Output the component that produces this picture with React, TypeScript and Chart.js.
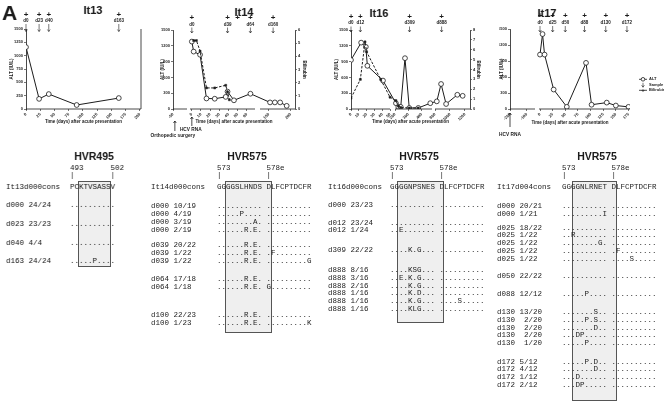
import React, { useEffect, useRef } from 'react';
import { Chart, registerables, LinearScale } from 'chart.js';

// ---------------- DATA ----------------
// It13
const it13XDomains: [number, number][] = [[0, 202]];
const it13XTicks = [0, 25, 50, 75, 100, 125, 150, 175, 200];
const it13AltDays = [0, 23, 40, 89, 163];
const it13Alt = [1160, 190, 280, 75, 205];
const it13Samples = [0, 23, 40, 163];
const it13SampleLabels = ['d0', 'd23', 'd40', 'd163'];
const it13Plus = [0, 23, 40, 163];

// It14
const it14XDomains: [number, number][] = [[-50, -35], [-2, 69], [130, 210]];
const it14XTicks = [-50, 0, 10, 20, 30, 40, 50, 60, 150, 200];
const it14AltDays = [0, 2, 9, 16, 25, 37, 39, 46, 64, 153, 164, 176, 191];
const it14Alt = [1280, 1090, 1030, 200, 195, 230, 330, 165, 290, 125, 125, 125, 60];
const it14BiliDays = [2, 5, 9, 16, 25, 37, 39, 41];
const it14Bili = [5.2, 5.2, 4.4, 1.6, 1.6, 1.8, 1.3, 0.7];
const it14Samples = [0, 39, 64, 160];
const it14SampleLabels = ['d0', 'd39', 'd64', 'd160'];
const it14Plus = [0, 39, 50, 64, 160];

// It16
const it16XDomains: [number, number][] = [[0, 50], [200, 478], [800, 1267]];
const it16XTicks = [0, 10, 20, 30, 40, 50, 200, 300, 400, 800, 1000, 1200];
const it16AltDays = [0, 13, 19, 21, 41, 207, 225, 243, 275, 307, 375, 465, 824, 881, 948, 1098, 1169];
const it16Alt = [930, 1260, 1180, 820, 540, 110, 40, 40, 965, 20, 20, 110, 145, 475, 95, 270, 250];
const it16BiliDays = [0, 12, 18, 20, 38, 50, 207, 225, 243, 307, 375];
const it16Bili = [1.1, 3.0, 6.8, 5.8, 3.0, 1.2, 0.85, 0.3, 0.15, 0.1, 0.1];
const it16Samples = [0, 12, 309, 888];
const it16SampleLabels = ['d0', 'd12', 'd309', 'd888'];
const it16Plus = [0, 12, 309, 888];

// It17
const it17XDomains: [number, number][] = [[-200, -50], [-2, 178]];
const it17XTicks = [-200, -100, 0, 25, 50, 75, 100, 125, 150, 175];
const it17AltDays = [0, 5, 9, 27, 53, 91, 102, 132, 150, 175];
const it17Alt = [1020, 1405, 1020, 365, 40, 865, 80, 120, 65, 40];
const it17Samples = [0, 25, 50, 88, 130, 172];
const it17SampleLabels = ['d0', 'd25', 'd50', 'd88', 'd130', 'd172'];
const it17Plus = [0, 25, 50, 88, 130, 172];
const legendLabels = ['ALT', 'Sample', 'Bilirubin'];

// Alignments
const it13ConsName = 'It13d000cons';
const it13Cons = 'PCKTVSASSV';
const it13Numbers = '493      502';
const it13Bars = '|        |';
const it13Rows: [string, string][] = [
  ['d000 24/24', '..........'],
  ['d023 23/23', '..........'],
  ['d040 4/4', '..........'],
  ['d163 24/24', '.....P....'],
];

const hvr575Numbers = '573        578e';
const hvr575Bars = '|          |';

const it14ConsName = 'It14d000cons';
const it14Cons = 'GGGGSLHNDS DLFCPTDCFR';
const it14Rows: [string, string][] = [
  ['d000 10/19', '.......... ..........'],
  ['d000 4/19', '.....P.... ..........'],
  ['d000 3/19', '........A. ..........'],
  ['d000 2/19', '......R.E. ..........'],
  ['d039 20/22', '......R.E. ..........'],
  ['d039 1/22', '......R.E. .F........'],
  ['d039 1/22', '......R.E. .........G'],
  ['d064 17/18', '......R.E. ..........'],
  ['d064 1/18', '......R.E. G.........'],
  ['d100 22/23', '......R.E. ..........'],
  ['d100 1/23', '......R.E. .........K'],
];

const it16ConsName = 'It16d000cons';
const it16Cons = 'GGGGNPSNES DLFCPTDCFR';
const it16Rows: [string, string][] = [
  ['d000 23/23', '.......... ..........'],
  ['d012 23/24', '.......... ..........'],
  ['d012 1/24', '..E....... ..........'],
  ['d309 22/22', '....K.G... ..........'],
  ['d888 8/16', '....KSG... ..........'],
  ['d888 3/16', '..E.K.G... ..........'],
  ['d888 2/16', '....K.G... ..........'],
  ['d888 1/16', '....K.D... ..........'],
  ['d888 1/16', '....K.G... ....S.....'],
  ['d888 1/16', '....KLG... ..........'],
];

const it17ConsName = 'It17d004cons';
const it17Cons = 'GGGGNLRNET DLFCPTDCFR';
const it17Rows: [string, string][] = [
  ['d000 20/21', '.......... ..........'],
  ['d000 1/21', '.........I ..........'],
  ['d025 18/22', '.......... ..........'],
  ['d025 1/22', '..R....... ..........'],
  ['d025 1/22', '........G. ..........'],
  ['d025 1/22', '.......... .F........'],
  ['d025 1/22', '.......... ....S.....'],
  ['d050 22/22', '.......... ..........'],
  ['d088 12/12', '.....P.... ..........'],
  ['d130 13/20', '.......S.. ..........'],
  ['d130  2/20', '.....P.S.. ..........'],
  ['d130  2/20', '.......D.. ..........'],
  ['d130  2/20', '...DP..... ..........'],
  ['d130  1/20', '.....P.... ..........'],
  ['d172 5/12', '.....P.D.. ..........'],
  ['d172 4/12', '.......D.. ..........'],
  ['d172 1/12', '...D...... ..........'],
  ['d172 2/12', '...DP..... ..........'],
];

// ---------------- STYLE / LAYOUT ----------------
const INK = '#1c1c1c';
const SANS = '"Liberation Sans", Arial, sans-serif';
const MONO = '"Liberation Mono", "DejaVu Sans Mono", monospace';
const CANVAS_H = 145;
const AX_TITLE = 4.5;
const TICK_FONT = 4;
const MONO_SIZE = 7.5;
const CHAR_W = 4.5;
const BOX_TOP = 181;
const NUM_Y = 169;
const BAR_Y = 176;
const HVR_Y = 156;

type Seg = { from: number; to: number; a: number; b: number };
const SEGMENTS = new WeakMap<HTMLCanvasElement, Seg[]>();

class BrokenScale extends LinearScale {
  static id = 'broken';
  static defaults = {};
  getPixelForValue(value: any): number {
    const v = Number(value);
    if (value === null || value === undefined || Number.isNaN(v)) return NaN;
    const segs = SEGMENTS.get((this as any).chart.canvas);
    if (!segs) return super.getPixelForValue(value);
    let s = segs[0];
    for (const g of segs) if (v >= g.from) s = g;
    const t = (v - s.from) / (s.to - s.from);
    return this.getPixelForDecimal(s.a + t * (s.b - s.a));
  }
}
Chart.register(...registerables, BrokenScale);

type Spec = {
  key: string;
  canvasX: number;
  canvasW: number;
  area: { L: number; T: number; R: number; B: number };
  yTitleX: number;
  xTitleY: number;
  segPx: [number, number][];
  segDays: [number, number][];
  xTicks: number[];
  yMax: number;
  yStep: number;
  y2?: { max: number; titleX: number };
  alt: { days: number[]; vals: number[] };
  bili?: { days: number[]; vals: number[] };
  samples: number[];
  sampleLabels: string[];
  plus: number[];
  mk: { plusY: number; labelY: number; a1: number; a2: number };
  notes: { day: number; tip: number; tail: number; text: string; textY: number; dx: number }[];
  rightBorder?: boolean;
  legend?: { x: number; ys: number[] };
};

const specs: Spec[] = [
  {
    key: 'it13', canvasX: 0, canvasW: 160,
    area: { L: 26, T: 29, R: 141, B: 109 }, yTitleX: 12, xTitleY: 122,
    segPx: [[26, 141]], segDays: it13XDomains, xTicks: it13XTicks,
    yMax: 1500, yStep: 250,
    alt: { days: it13AltDays, vals: it13Alt },
    samples: it13Samples, sampleLabels: it13SampleLabels, plus: it13Plus,
    mk: { plusY: 15, labelY: 20.5, a1: 24, a2: 31.5 },
    notes: [], rightBorder: true,
  },
  {
    key: 'it14', canvasX: 145, canvasW: 185,
    area: { L: 173, T: 30, R: 295, B: 109 }, yTitleX: 163, xTitleY: 122,
    segPx: [[173, 187], [190, 255], [260, 295]], segDays: it14XDomains, xTicks: it14XTicks,
    yMax: 1500, yStep: 300, y2: { max: 6, titleX: 304 },
    alt: { days: it14AltDays, vals: it14Alt },
    bili: { days: it14BiliDays, vals: it14Bili },
    samples: it14Samples, sampleLabels: it14SampleLabels, plus: it14Plus,
    mk: { plusY: 18, labelY: 24.5, a1: 27.5, a2: 33 },
    notes: [
      { day: -48, tip: 121, tail: 131, text: 'Orthopedic surgery', textY: 136, dx: -2 },
      { day: 0, tip: 117, tail: 126, text: 'HCV RNA', textY: 130, dx: -1 },
    ],
  },
  {
    key: 'it16', canvasX: 325, canvasW: 165,
    area: { L: 351, T: 30, R: 470, B: 109 }, yTitleX: 337, xTitleY: 122,
    segPx: [[351, 390], [395, 432], [435, 470]], segDays: it16XDomains, xTicks: it16XTicks,
    yMax: 1500, yStep: 300, y2: { max: 8, titleX: 478 },
    alt: { days: it16AltDays, vals: it16Alt },
    bili: { days: it16BiliDays, vals: it16Bili },
    samples: it16Samples, sampleLabels: it16SampleLabels, plus: it16Plus,
    mk: { plusY: 17, labelY: 23, a1: 26.5, a2: 32 },
    notes: [],
  },
  {
    key: 'it17', canvasX: 490, canvasW: 174,
    area: { L: 510, T: 29, R: 630, B: 109 }, yTitleX: 502, xTitleY: 123,
    segPx: [[510, 535], [539, 630]], segDays: it17XDomains, xTicks: it17XTicks,
    yMax: 1500, yStep: 300,
    alt: { days: it17AltDays, vals: it17Alt },
    samples: it17Samples, sampleLabels: it17SampleLabels, plus: it17Plus,
    mk: { plusY: 16, labelY: 22.5, a1: 26, a2: 32 },
    notes: [{ day: -200, tip: 113, tail: 127, text: 'HCV RNA', textY: 135, dx: 0 }],
    legend: { x: 639, ys: [79.3, 85, 90.3] },
  },
];

function arrow(ctx: CanvasRenderingContext2D, x: number, yFrom: number, yTo: number) {
  const dir = yTo > yFrom ? 1 : -1;
  ctx.beginPath();
  ctx.moveTo(x, yFrom);
  ctx.lineTo(x, yTo);
  ctx.stroke();
  ctx.beginPath();
  ctx.moveTo(x - 1.4, yTo - dir * 2);
  ctx.lineTo(x, yTo);
  ctx.lineTo(x + 1.4, yTo - dir * 2);
  ctx.stroke();
}

function decorPlugin(s: Spec) {
  return {
    id: 'decor_' + s.key,
    afterDraw(chart: any) {
      const ctx: CanvasRenderingContext2D = chart.ctx;
      const xs = chart.scales.x;
      const ca = chart.chartArea;
      ctx.save();
      ctx.strokeStyle = INK;
      ctx.fillStyle = INK;
      ctx.lineWidth = 0.8;
      for (const [a, b] of s.segDays) {
        ctx.beginPath();
        ctx.moveTo(xs.getPixelForValue(a), ca.bottom);
        ctx.lineTo(xs.getPixelForValue(b), ca.bottom);
        ctx.stroke();
      }
      if (s.rightBorder) {
        ctx.beginPath();
        ctx.moveTo(ca.right, ca.top);
        ctx.lineTo(ca.right, ca.bottom);
        ctx.stroke();
      }
      ctx.textAlign = 'center';
      ctx.textBaseline = 'middle';
      ctx.font = `bold 8px ${SANS}`;
      for (const d of s.plus) ctx.fillText('+', xs.getPixelForValue(d), s.mk.plusY);
      ctx.font = `bold 4.5px ${SANS}`;
      ctx.lineWidth = 0.6;
      s.samples.forEach((d, i) => {
        const x = xs.getPixelForValue(d);
        ctx.fillText(s.sampleLabels[i], x, s.mk.labelY);
        arrow(ctx, x, s.mk.a1, s.mk.a2);
      });
      ctx.lineWidth = 0.8;
      ctx.font = `bold 4.8px ${SANS}`;
      for (const n of s.notes) {
        const x = xs.getPixelForValue(n.day);
        arrow(ctx, x, n.tail, n.tip);
        ctx.fillText(n.text, x + n.dx, n.textY);
      }
      if (s.legend) {
        const lx = s.legend.x - s.canvasX;
        const [y1, y2, y3] = s.legend.ys;
        ctx.lineWidth = 0.8;
        ctx.beginPath();
        ctx.moveTo(lx, y1);
        ctx.lineTo(lx + 8, y1);
        ctx.stroke();
        ctx.beginPath();
        ctx.fillStyle = '#fff';
        ctx.arc(lx + 4, y1, 1.8, 0, Math.PI * 2);
        ctx.fill();
        ctx.stroke();
        ctx.fillStyle = INK;
        ctx.lineWidth = 0.6;
        arrow(ctx, lx + 4, y2 - 2.2, y2 + 2.2);
        ctx.lineWidth = 0.8;
        ctx.beginPath();
        ctx.moveTo(lx, y3);
        ctx.lineTo(lx + 8, y3);
        ctx.stroke();
        ctx.font = `bold 6px ${SANS}`;
        ctx.fillText('+', lx + 4, y3);
        ctx.font = `bold 4px ${SANS}`;
        ctx.textAlign = 'left';
        legendLabels.forEach((t, i) => ctx.fillText(t, lx + 10, s.legend!.ys[i]));
      }
      ctx.restore();
    },
  };
}

const plainNum = (v: any) => String(v);

function buildConfig(s: Spec, canvas: HTMLCanvasElement): any {
  const lh = AX_TITLE * 1.2;
  const padLeft = s.yTitleX - s.canvasX - lh / 2;
  const yw = s.area.L - s.canvasX - padLeft;
  const canvasRight = s.canvasX + s.canvasW;
  let padRight = canvasRight - s.area.R;
  let y2w = 0;
  if (s.y2) {
    padRight = canvasRight - (s.y2.titleX + lh / 2);
    y2w = s.y2.titleX + lh / 2 - s.area.R;
  }
  const xBottom = s.xTitleY + lh / 2;
  const padBottom = CANVAS_H - xBottom;
  const xh = xBottom - s.area.B;
  const span = s.area.R - s.area.L;
  const segs: Seg[] = s.segPx.map((p, i) => ({
    from: s.segDays[i][0],
    to: s.segDays[i][1],
    a: (p[0] - s.area.L) / span,
    b: (p[1] - s.area.L) / span,
  }));
  SEGMENTS.set(canvas, segs);

  const tickFont = { size: TICK_FONT, family: SANS, weight: 'bold' as const };
  const titleFont = { size: AX_TITLE, family: SANS, weight: 'bold' as const, lineHeight: 1.2 };
  const grid = { display: true, drawOnChartArea: false, drawTicks: true, tickLength: 2, color: INK, lineWidth: 0.6 };

  const datasets: any[] = [];
  if (s.bili) {
    datasets.push({
      label: 'Bilirubin',
      data: s.bili.days.map((d, i) => ({ x: d, y: s.bili!.vals[i] })),
      yAxisID: 'y2',
      borderColor: INK,
      borderWidth: 1,
      borderDash: [2.5, 1.5],
      pointStyle: 'rect',
      pointRadius: 1.4,
      pointBackgroundColor: INK,
      pointBorderColor: INK,
      pointBorderWidth: 0.5,
      tension: 0,
      fill: false,
    });
  }
  datasets.push({
    label: 'ALT',
    data: s.alt.days.map((d, i) => ({ x: d, y: s.alt.vals[i] })),
    yAxisID: 'y',
    borderColor: INK,
    borderWidth: 1,
    pointRadius: 2.4,
    pointBackgroundColor: '#fff',
    pointBorderColor: INK,
    pointBorderWidth: 0.8,
    tension: 0,
    fill: false,
  });

  const scales: any = {
    x: {
      type: 'broken',
      min: s.segDays[0][0],
      max: s.segDays[s.segDays.length - 1][1],
      afterBuildTicks: (sc: any) => {
        sc.ticks = s.xTicks.map((v) => ({ value: v }));
      },
      afterFit: (sc: any) => {
        sc.height = xh;
      },
      grid,
      border: { display: false },
      ticks: {
        font: tickFont, color: INK, padding: 1, autoSkip: false,
        minRotation: 45, maxRotation: 45,
        callback: plainNum,
      },
      title: { display: true, text: 'Time (days) after acute presentation', font: titleFont, color: INK, padding: 0 },
    },
    y: {
      position: 'left',
      min: 0,
      max: s.yMax,
      afterFit: (sc: any) => {
        sc.width = yw;
      },
      grid,
      border: { display: true, color: INK, width: 0.8 },
      ticks: { stepSize: s.yStep, font: tickFont, color: INK, padding: 1, autoSkip: false, callback: plainNum },
      title: { display: true, text: 'ALT (IU/L)', font: titleFont, color: INK, padding: 0 },
    },
  };
  if (s.y2) {
    scales.y2 = {
      position: 'right',
      min: 0,
      max: s.y2.max,
      afterFit: (sc: any) => {
        sc.width = y2w;
      },
      grid,
      border: { display: true, color: INK, width: 0.8 },
      ticks: { stepSize: 1, font: tickFont, color: INK, padding: 1, autoSkip: false, callback: plainNum },
      title: { display: true, text: 'Bilirubin', font: titleFont, color: INK, padding: 0 },
    };
  }

  return {
    type: 'line',
    data: { datasets },
    options: {
      responsive: false,
      animation: false,
      events: [],
      layout: { padding: { left: padLeft, right: padRight, top: s.area.T, bottom: padBottom } },
      plugins: { legend: { display: false }, tooltip: { enabled: false }, title: { display: false } },
      scales,
    },
    plugins: [decorPlugin(s)],
  };
}

function MiniChart({ spec }: { spec: Spec }) {
  const ref = useRef<HTMLCanvasElement>(null);
  useEffect(() => {
    const canvas = ref.current!;
    const chart = new Chart(canvas, buildConfig(spec, canvas));
    return () => chart.destroy();
  }, [spec]);
  return (
    <canvas
      ref={ref}
      width={spec.canvasW}
      height={CANVAS_H}
      style={{ position: 'absolute', left: spec.canvasX, top: 0, width: spec.canvasW, height: CANVAS_H }}
    />
  );
}

type Column = {
  title: string;
  titleX: number;
  consName: string;
  cons: string;
  numbers: string;
  bars: string;
  rows: [string, string][];
  labelX: number;
  seqX: number;
  consY: number;
  rowYs: number[];
  boxFrom: number;
  boxTo: number;
  boxBottom: number;
};

const columns: Column[] = [
  {
    title: 'HVR495', titleX: 94, consName: it13ConsName, cons: it13Cons, numbers: it13Numbers, bars: it13Bars, rows: it13Rows,
    labelX: 6, seqX: 70, consY: 188, rowYs: [206, 224.6, 243.3, 261.7], boxFrom: 1.8, boxTo: 9.1, boxBottom: 267,
  },
  {
    title: 'HVR575', titleX: 247, consName: it14ConsName, cons: it14Cons, numbers: hvr575Numbers, bars: hvr575Bars, rows: it14Rows,
    labelX: 151, seqX: 217, consY: 188,
    rowYs: [207, 215, 223, 231, 245.5, 253.5, 261.5, 280, 288, 316, 324], boxFrom: 1.8, boxTo: 12.2, boxBottom: 333,
  },
  {
    title: 'HVR575', titleX: 419, consName: it16ConsName, cons: it16Cons, numbers: hvr575Numbers, bars: hvr575Bars, rows: it16Rows,
    labelX: 328, seqX: 390, consY: 187.5,
    rowYs: [206, 223.3, 231, 251, 271, 278.7, 286.4, 294, 301.7, 309.3], boxFrom: 1.6, boxTo: 11.9, boxBottom: 323,
  },
  {
    title: 'HVR575', titleX: 597, consName: it17ConsName, cons: it17Cons, numbers: hvr575Numbers, bars: hvr575Bars, rows: it17Rows,
    labelX: 497, seqX: 562, consY: 187.5,
    rowYs: [206.7, 214.4, 228.5, 236.2, 243.9, 251.6, 259.3, 277, 294.5, 313, 320.7, 328.4, 336.1, 343.8, 362.3, 370, 377.7, 385.4],
    boxFrom: 2.2, boxTo: 12.2, boxBottom: 401,
  },
];

function monoLine(text: string, x: number, y: number, key: string) {
  return (
    <div
      key={key}
      style={{
        position: 'absolute', left: x, top: y - MONO_SIZE / 2,
        fontFamily: MONO, fontSize: MONO_SIZE, lineHeight: `${MONO_SIZE}px`,
        whiteSpace: 'pre', color: INK,
      }}
    >
      {text}
    </div>
  );
}

function AlignmentColumn({ c, idx }: { c: Column; idx: number }) {
  const k = 'c' + idx;
  return (
    <>
      <div
        style={{
          position: 'absolute', left: c.seqX + c.boxFrom * CHAR_W, top: BOX_TOP,
          width: (c.boxTo - c.boxFrom) * CHAR_W, height: c.boxBottom - BOX_TOP,
          background: '#efefef', border: '1px solid #555', boxSizing: 'border-box',
        }}
      />
      <div
        style={{
          position: 'absolute', left: c.titleX, top: HVR_Y, transform: 'translate(-50%, -50%)',
          fontFamily: SANS, fontWeight: 'bold', fontSize: 10.5, lineHeight: '10.5px', whiteSpace: 'pre', color: INK,
        }}
      >
        {c.title}
      </div>
      {monoLine(c.numbers, c.seqX, NUM_Y, k + 'n')}
      {monoLine(c.bars, c.seqX, BAR_Y, k + 'b')}
      {monoLine(c.consName, c.labelX, c.consY, k + 'cn')}
      {monoLine(c.cons, c.seqX, c.consY, k + 'cs')}
      {c.rows.map((r, i) => [
        monoLine(r[0], c.labelX, c.rowYs[i], k + 'l' + i),
        monoLine(r[1], c.seqX, c.rowYs[i], k + 's' + i),
      ])}
    </>
  );
}

const chartTitles: { text: string; x: number; y: number }[] = [
  { text: 'It13', x: 93, y: 10 },
  { text: 'It14', x: 244, y: 12 },
  { text: 'It16', x: 379, y: 12.5 },
  { text: 'It17', x: 547, y: 13 },
];

export default function App() {
  return (
    <div
      style={{
        position: 'absolute', left: 0, top: 0, width: 664, height: 411,
        background: '#fff', overflow: 'hidden', color: INK, fontFamily: SANS,
        filter: 'grayscale(1)',
      }}
    >
      <div
        style={{
          position: 'absolute', left: 2, top: 2, fontFamily: SANS, fontWeight: 'bold',
          fontSize: 21, lineHeight: '21px',
        }}
      >
        A
      </div>
      {chartTitles.map((t) => (
        <div
          key={t.text}
          style={{
            position: 'absolute', left: t.x, top: t.y, transform: 'translate(-50%, -50%)',
            fontFamily: SANS, fontWeight: 'bold', fontSize: 11, lineHeight: '11px', whiteSpace: 'pre',
          }}
        >
          {t.text}
        </div>
      ))}
      {specs.map((s) => (
        <MiniChart key={s.key} spec={s} />
      ))}
      {columns.map((c, i) => (
        <AlignmentColumn key={i} c={c} idx={i} />
      ))}
    </div>
  );
}
